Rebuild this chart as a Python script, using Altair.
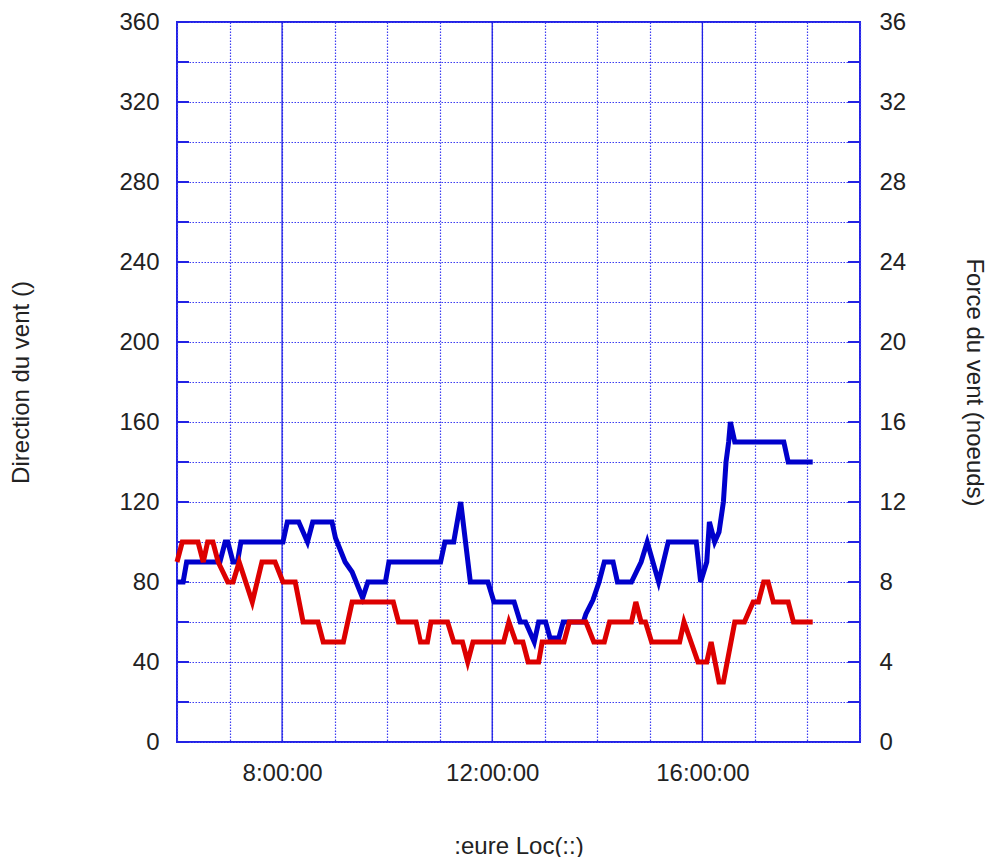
import altair as alt
import pandas as pd

# ---- data ----
dir_time = ["6:00", "6:07", "6:11", "6:49", "6:55", "6:58", "7:04", "7:09", "7:13", "8:01",
            "8:06", "8:19", "8:29", "8:35", "8:57", "9:01", "9:12", "9:20", "9:32", "9:38",
            "9:58", "10:02", "11:01", "11:06", "11:16", "11:24", "11:35", "11:55", "12:02", "12:25",
            "12:32", "12:38", "12:48", "12:53", "13:01", "13:06", "13:16", "13:21", "13:44", "13:47",
            "13:55", "14:02", "14:08", "14:18", "14:23", "14:39", "14:50", "14:57", "15:10", "15:21",
            "15:53", "15:58", "16:05", "16:08", "16:14", "16:19", "16:24", "16:27", "16:30", "16:32",
            "16:37", "17:33", "17:38", "18:06"]
dir_val = [80, 80, 90, 90, 100, 100, 90, 90, 100, 100,
           110, 110, 100, 110, 110, 102, 90, 85, 72, 80,
           80, 90, 90, 100, 100, 120, 80, 80, 70, 70,
           60, 60, 50, 60, 60, 52, 52, 60, 60, 64,
           71, 80, 90, 90, 80, 80, 90, 100, 80, 100,
           100, 80, 90, 110, 100, 105, 120, 140, 150, 160,
           150, 150, 140, 140]

force_time = ["6:00", "6:06", "6:24", "6:30", "6:35", "6:41", "6:47", "6:58", "7:04", "7:11",
              "7:26", "7:37", "7:52", "8:01", "8:15", "8:24", "8:41", "8:47", "9:10", "9:20",
              "10:07", "10:13", "10:33", "10:38", "10:46", "10:50", "11:09", "11:16", "11:26", "11:32",
              "11:38", "12:13", "12:19", "12:27", "12:35", "12:41", "12:53", "12:57", "13:22", "13:28",
              "13:47", "13:56", "14:08", "14:14", "14:39", "14:44", "14:50", "14:55", "15:02", "15:34",
              "15:39", "15:47", "15:55", "16:05", "16:10", "16:19", "16:24", "16:37", "16:48", "16:58",
              "17:04", "17:10", "17:15", "17:21", "17:38", "17:44", "18:06"]
force_val = [9, 10, 10, 9, 10, 10, 9, 8, 8, 9,
             7, 9, 9, 8, 8, 6, 6, 5, 5, 7,
             7, 6, 6, 5, 5, 6, 6, 5, 5, 4,
             5, 5, 6, 5, 5, 4, 4, 5, 5, 6,
             6, 5, 5, 6, 6, 7, 6, 6, 5, 5,
             6, 5, 4, 4, 5, 3, 3, 6, 6, 7,
             7, 8, 8, 7, 7, 6, 6]

dir_ticks = list(range(0, 361, 20))
force_labels = list(range(0, 37, 4))
hour_grid = list(range(6, 20))
major_hours = [8, 12, 16]
x_domain = [6, 19]


def to_hours(t):
    h, m = t.split(":")
    return int(h) + int(m) / 60.0


df_dir = pd.DataFrame({"h": [to_hours(t) for t in dir_time], "v": dir_val})
df_force = pd.DataFrame({"h": [to_hours(t) for t in force_time], "f": force_val})
df_ticks = pd.DataFrame({"v": dir_ticks})
df_major = pd.DataFrame({"h": major_hours})

W, H = 683, 720
FONT = "Liberation Sans"
TXT = "#222222"
FRAME = "#2222e4"
GRID = "#3c3cf2"
MAJOR = "#2020e6"

x_axis = alt.Axis(values=hour_grid,
                  labelExpr="datum.value % 4 == 0 ? datum.value + ':00:00' : ''",
                  grid=True, gridDash=[1.5, 1.5], gridColor=GRID, gridWidth=1.2,
                  ticks=False, domain=False, labelPadding=19,
                  labelFontSize=24, labelColor=TXT, labelFont=FONT,
                  title=":eure Loc(::)", titleFontSize=24, titleFontWeight="normal",
                  titleColor=TXT, titleFont=FONT, titlePadding=49)
y_axis_left = alt.Axis(values=dir_ticks,
                       labelExpr="datum.value % 40 == 0 ? datum.label : ''",
                       grid=True, gridDash=[1.5, 1.5], gridColor=GRID, gridWidth=1.2,
                       ticks=False, domain=False, labelPadding=18,
                       labelFontSize=24, labelColor=TXT, labelFont=FONT,
                       title="Direction du vent ()", titleFontSize=24, titleFontWeight="normal",
                       titleColor=TXT, titleFont=FONT, titlePadding=85)
y_axis_right = alt.Axis(values=force_labels, orient="right",
                        grid=False, ticks=False, domain=False, labelPadding=19,
                        labelFontSize=24, labelColor=TXT, labelFont=FONT,
                        title="Force du vent (noeuds)", titleFontSize=24, titleFontWeight="normal",
                        titleColor=TXT, titleFont=FONT, titlePadding=56, titleAngle=90)

xs = alt.Scale(domain=x_domain, nice=False, zero=False)
yl = alt.Scale(domain=[0, 360], nice=False)
yr = alt.Scale(domain=[0, 36], nice=False)

X = alt.X("h:Q", scale=xs, axis=x_axis)
YL = alt.Y("v:Q", scale=yl, axis=y_axis_left)

major = alt.Chart(df_major).mark_rule(color=MAJOR, strokeWidth=1.3).encode(x=X)
ticks_left = alt.Chart(df_ticks).mark_rule(color=FRAME, strokeWidth=2).encode(
    y=YL, x=alt.value(0), x2=alt.value(12))
ticks_right = alt.Chart(df_ticks).mark_rule(color=FRAME, strokeWidth=2).encode(
    y=YL, x=alt.value(W - 12), x2=alt.value(W))
blue = alt.Chart(df_dir).mark_line(color="#0000cc", strokeWidth=5, strokeJoin="miter").encode(
    x=X, y=YL)

left = alt.layer(major, ticks_left, ticks_right, blue)

red = alt.Chart(df_force).mark_line(color="#dd0000", strokeWidth=5, strokeJoin="miter").encode(
    x=X, y=alt.Y("f:Q", scale=yr, axis=y_axis_right))

chart = alt.layer(left, red).resolve_scale(y="independent").properties(
    width=W, height=H,
    autosize=alt.AutoSizeParams(type="none"),
    padding={"left": 169, "top": 14, "right": 131, "bottom": 115},
    background="white",
).configure_view(stroke=FRAME, strokeWidth=2)

chart.save("out.html", embed_options={"renderer": "svg", "actions": False})
